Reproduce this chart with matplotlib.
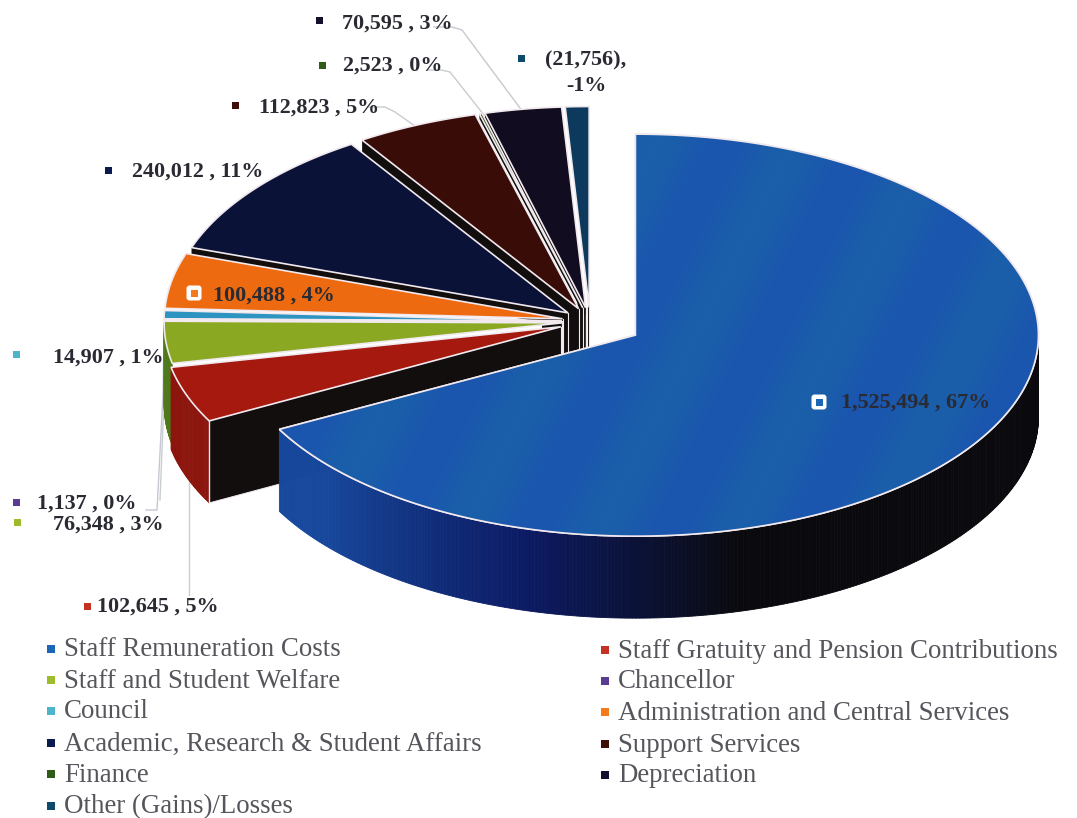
import numpy as np
import matplotlib
matplotlib.use("Agg")
import matplotlib.pyplot as plt
from matplotlib.patches import Polygon, FancyBboxPatch, Rectangle
from matplotlib.colors import to_rgb, LinearSegmentedColormap

# ---- data ----
categories = ["Staff Remuneration Costs", "Staff Gratuity and Pension Contributions",
              "Staff and Student Welfare", "Chancellor", "Council",
              "Administration and Central Services", "Academic, Research & Student Affairs",
              "Support Services", "Finance", "Depreciation", "Other (Gains)/Losses"]
values = [1525494, 102645, 76348, 1137, 14907, 100488, 240012, 112823, 2523, 70595, -21756]
percents = ["67%", "5%", "3%", "0%", "1%", "4%", "11%", "5%", "0%", "3%", "-1%"]
value_text = ["1,525,494", "102,645", "76,348", "1,137", "14,907", "100,488",
              "240,012", "112,823", "2,523", "70,595", "(21,756)"]

# ---- styles ----
top_colors = ["#1a58ad", "#a5190f", "#8ba822", "#5a3a8e", "#2d93c0", "#ee6a10",
              "#0a1238", "#3a0c08", "#2a5a14", "#120c20", "#0d3a5c"]
wall_colors = ["#17489c", "#8c160e", "#4f7a1c", "#3a2560", "#1d6f90", "#b8500c",
               "#080e30", "#2c0a06", "#1d4010", "#0c0818", "#0a2a44"]
key_colors = ["#1b66b5", "#c43223", "#9dbb2a", "#5b3a94", "#4cb5c9", "#f47a1c",
              "#0b1a4e", "#3d0f08", "#2f5c17", "#14102c", "#0f4a6a"]
edge = "#f1e9ee"
face_dark = "#120e0e"

CX, CY = 590, 321.5
RY = 201
DEPTH = 82
radius_x = [403, 398, 398, 398, 398, 398, 398, 398, 398, 398, 398]
explode = [53, 31, 28, 28, 28, 28, 28, 28, 28, 28, 28]
face_depth = [0, 82, 0, 0, 0, 0, 14, 14, 5, 8, 0]

fig = plt.figure(figsize=(10.77, 8.18), dpi=100, facecolor="white")
ax = fig.add_axes([0, 0, 1, 1])
ax.set_xlim(0, 1077)
ax.set_ylim(818, 0)
ax.axis("off")

mag = np.abs(values)
sweep = mag / mag.sum() * 360.0
starts = np.concatenate([[0], np.cumsum(sweep)[:-1]])


def pt(a, ox, oy, rx, r=1.0):
    t = np.radians(a)
    return ox + r * rx * np.sin(t), oy - r * RY * np.cos(t)


def draw_slice(i):
    rx = radius_x[i]
    a0, a1 = starts[i], starts[i] + sweep[i]
    mid = np.radians((a0 + a1) / 2)
    ox = CX + explode[i] * np.sin(mid)
    oy = CY - explode[i] * 0.5 * np.cos(mid)
    arc = np.linspace(a0, a1, max(int(sweep[i] * 2), 3))
    ax_, ay_ = pt(arc, ox, oy, rx)

    # dark core next to the apex, always full depth
    if i > 0:
        x0, y0 = pt(a0, ox, oy, rx, 0.05)
        x1, y1 = pt(a1, ox, oy, rx, 0.05)
        ax.add_patch(Polygon([(ox, oy), (x0, y0), (x0, y0 + DEPTH), (ox, oy + DEPTH)],
                             closed=True, fc=face_dark, ec="none", zorder=2))
        ax.add_patch(Polygon([(ox, oy), (x1, y1), (x1, y1 + DEPTH), (ox, oy + DEPTH)],
                             closed=True, fc=face_dark, ec="none", zorder=2))

    # radial face under the start edge
    if face_depth[i]:
        x, y = pt(a0, ox, oy, rx)
        d = face_depth[i]
        ax.add_patch(Polygon([(ox, oy), (x, y), (x, y + d), (ox, oy + d)],
                             closed=True, fc=face_dark, ec="none", zorder=2.2))
        if i == 1:
            ax.plot([x, x], [y, y + d], color=edge, lw=1.0, zorder=2.9)
            ax.plot([x, ox], [y + d, oy + d], color=edge, lw=0.7, zorder=2.2)

    # vertical apex edges
    if i > 0:
        ax.plot([ox, ox], [oy, oy + DEPTH], color=edge, lw=0.8, zorder=2.3)

    # outer wall: only where it faces the viewer
    wall_arc = arc[(arc >= 90) & (arc <= 270)]
    if len(wall_arc) > 1:
        base = np.array(to_rgb(wall_colors[i]))
        black = np.array(to_rgb("#0a0a0e"))
        navy = np.array(to_rgb("#0c1a62"))
        for k in range(len(wall_arc) - 1):
            b0, b1 = wall_arc[k], wall_arc[k + 1]
            if i == 0:
                if b0 < 195:
                    f = np.clip((b0 - 165) / 30, 0, 1)
                    c = black * (1 - f) + navy * f
                else:
                    f = np.clip((b0 - 195) / 35, 0, 1)
                    c = navy * (1 - f) + base * f
            else:
                c = base
            x0, y0 = pt(b0, ox, oy, rx)
            x1, y1 = pt(b1, ox, oy, rx)
            ax.add_patch(Polygon([(x0, y0), (x1, y1), (x1, y1 + DEPTH), (x0, y0 + DEPTH)],
                                 closed=True, fc=c, ec=c, lw=0.6,
                                 zorder=4 if i == 0 else 2.5))

    # top face
    poly = np.column_stack([np.r_[ox, ax_], np.r_[oy, ay_]])
    p = Polygon(poly, closed=True, fc=top_colors[i], ec=edge, lw=1.2,
                joinstyle="miter", zorder=5 if i == 0 else 3.5)
    ax.add_patch(p)
    if i == 0:
        # faint colour banding of the printed blue
        yy, xx = np.mgrid[130:540:3, 270:1040:3]
        bands = 0.5 + 0.5 * np.sin((xx + 0.5 * yy) / 22.0)
        cmap = LinearSegmentedColormap.from_list("b", ["#1a55af", "#1b5fa9"])
        im = ax.imshow(bands, extent=(270, 1040, 540, 130), cmap=cmap, aspect="auto",
                       zorder=5.05, interpolation="bilinear")
        clip = Polygon(poly, closed=True, transform=ax.transData, fc="none", ec="none")
        ax.add_patch(clip)
        im.set_clip_path(clip)
        ax.add_patch(Polygon(poly, closed=True, fc="none", ec=edge, lw=1.2,
                             joinstyle="miter", zorder=5.1))
        ax.set_xlim(0, 1077)
        ax.set_ylim(818, 0)


for i in range(len(values) - 1, 0, -1):
    draw_slice(i)
draw_slice(0)

# ---- data labels ----
label_font = dict(family="Liberation Serif", fontweight="bold", color="#2a2a33", fontsize=15.9)
label_pos = [(916, 403), (158, 607), (108, 525), (87, 504), (108, 358), (274, 296),
             (198, 172), (319, 108), (393, 66), (397, 24), (586, 73)]
key_pos = [(819, 402), (87, 606), (17, 522), (16, 502), (16, 354), (194, 293),
           (108, 170), (235, 105), (322, 65), (319, 20), (521, 58)]

for i, (txt, pc) in enumerate(zip(value_text, percents)):
    x, y = label_pos[i]
    s = f"{txt} , {pc}" if i != len(values) - 1 else f"{txt},\n{pc}"
    ax.text(x, y, s, ha="center", va="center", linespacing=1.35, zorder=10, **label_font)
    kx, ky = key_pos[i]
    if i in (0, 5):
        ax.add_patch(FancyBboxPatch((kx - 5, ky - 5), 10, 10, boxstyle="round,pad=2.5,rounding_size=3",
                                    fc="white", ec="none", zorder=9))
    ax.add_patch(Rectangle((kx - 3.5, ky - 3.5), 7, 7, fc=key_colors[i], ec="none", zorder=10))

# ---- leader lines ----
leaders = [
    ([188.5, 188.5], [595, 478], "#c8d0cc"),
    ([146, 157, 163, 164], [510, 510, 395, 335], "#c9c5d6"),
    ([160, 164, 165], [500, 400, 340], "#c8d0cc"),
    ([368, 385, 395, 415], [107, 107, 112, 126], "#c8cccc"),
    ([428, 441, 450, 484], [70, 70, 72, 115], "#c8cccc"),
    ([434, 452, 462, 523], [27, 27, 30, 112], "#c8c8d0"),
]
for xs, ys, c in leaders:
    ax.plot(xs, ys, color=c, lw=1.0, zorder=1)

# ---- legend ----
legend_font = dict(family="Liberation Serif", color="#55555c", fontsize=19.4)
legend_rows = [650, 681, 712, 744, 775, 807]
for i, name in enumerate(categories):
    col, row = i % 2, i // 2
    kx = 51 if col == 0 else 605
    tx = 64 if col == 0 else 618
    y = legend_rows[row] if col == 0 else legend_rows[row] + 1
    ax.add_patch(Rectangle((kx - 4, y - 5), 8, 8, fc=key_colors[i], ec="none", zorder=10))
    ax.text(tx, y, name, ha="left", va="center", zorder=10, **legend_font)

fig.savefig("out.png", dpi=100, facecolor="white")
